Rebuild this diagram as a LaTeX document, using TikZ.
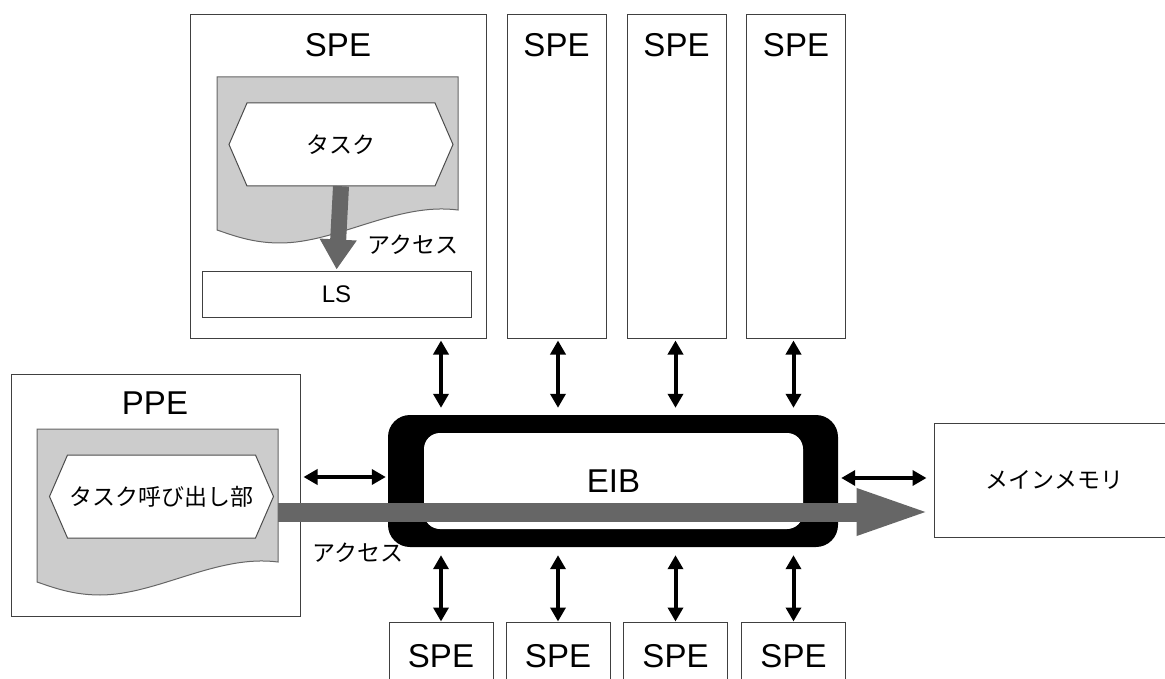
\documentclass[tikz,border=0pt]{standalone}
\usepackage{fontspec}
\setmainfont{Liberation Sans}
\newfontfamily\jpfont{Noto Sans CJK JP}
\usetikzlibrary{arrows.meta,calc}

\definecolor{docgray}{gray}{0.8}
\definecolor{accgray}{gray}{0.4}
\tikzstyle{unit}=[draw=black!75, line width=1pt, fill=white, inner sep=0pt]
\tikzstyle{title}=[font=\fontsize{33}{38}\selectfont]
\tikzstyle{jtext}=[font=\jpfont\fontsize{23}{27}\selectfont, inner sep=0pt]
\tikzstyle{doc}=[fill=docgray, draw=black!60, line width=1pt]
\tikzstyle{hexa}=[fill=white, draw=black!70, line width=1pt]
\tikzstyle{access}=[draw=accgray, fill=accgray]
\tikzstyle{link}=[draw, line width=4pt, >={Triangle[length=14pt,width=15pt]}, <->]

\begin{document}
\begin{tikzpicture}[x=1pt,y=-1pt]
    \useasboundingbox (0,0) rectangle (1165,679);

    % SPEs above the bus, the first one opened up
    \node[unit, minimum width=296, minimum height=323] (spe0) at (338,176.5) {};
    \node[title] (spe0t) at (338,45) {SPE};
    \foreach \nm/\x in {spe1/556.5, spe2/676.5, spe3/796} {
        \node[unit, minimum width=99, minimum height=323] (\nm) at (\x,176.5) {};
        \node[title] (\nm t) at (\x,45) {SPE};
    }
    \node[unit, font=\fontsize{24}{28}\selectfont, minimum width=269, minimum height=45] (ls) at (336.5,294.5) {LS};

    % PPE, memory and the lower SPEs
    \node[unit, minimum width=289, minimum height=242] (ppe) at (155.5,495) {};
    \node[title] (ppet) at (155,403) {PPE};
    \node[unit, jtext, minimum width=241, minimum height=114] (mem) at (1054.5,480) {メインメモリ};
    \foreach \nm/\x in {b0/441, b1/558, b2/675.5, b3/793.5}
        \node[unit, title, minimum width=104, minimum height=68] (\nm) at (\x,656) {SPE};

    % program pages (gray sheets with a wavy lower edge)
    \foreach \dx/\dy in {217/77, 37/429}
        \draw[doc, shift={(\dx,\dy)}] (0,0) -- (241,0) -- (241,133)
            .. controls (180,125) and (120,166) .. (63,166)
            .. controls (35,166) and (15,158) .. (0,153) -- cycle;

    % hexagons with the task code
    \foreach \cx/\cy/\nm/\txt in {341/144.5/task/タスク, 161.5/496.5/call/タスク呼び出し部} {
        \draw[hexa] (\cx-112,\cy) -- (\cx-94,\cy-41.5) -- (\cx+94,\cy-41.5)
            -- (\cx+112,\cy) -- (\cx+94,\cy+41.5) -- (\cx-94,\cy+41.5) -- cycle;
        \node[jtext, minimum width=224, minimum height=83] (\nm) at (\cx,\cy) {\txt};
    }

    % the bus
    \node[fill=black, rounded corners=22, minimum width=450, minimum height=132] (eib) at (613,481) {};
    \node[fill=white, rounded corners=16, minimum width=379, minimum height=96, title] (eibin) at (613.5,481) {EIB};

    % accesses
    \draw[access, line width=16pt, arrows={-Triangle[length=30pt,width=35pt]}, shorten >=2pt] (task.south) -- (ls.north);
    \node[jtext] (acc1t) at (413,245) {アクセス};
    \coordinate (acc) at (278,512);
    \draw[access, line width=19pt, arrows={-Triangle[length=77pt,width=41pt]}] (acc) -- (acc -| mem.west);
    \node[jtext] (acc2t) at (358,553) {アクセス};

    % links to the bus
    \foreach \b/\s in {b0/spe0, b1/spe1, b2/spe2, b3/spe3} {
        \draw[link, shorten <=2pt, shorten >=7pt] (\b |- \s.south) -- (\b |- eib.north);
        \draw[link, shorten <=8pt] (\b |- eib.south) -- (\b.north);
    }
    \draw[link, shorten <=3pt, shorten >=2pt] ([yshift=4pt]ppe.east |- eib.west) -- ([yshift=4pt]eib.west);
    \draw[link, shorten <=3pt, shorten >=7pt] ([yshift=3pt]eib.east) -- ([yshift=3pt]eib.east -| mem.west);
\end{tikzpicture}
\end{document}
